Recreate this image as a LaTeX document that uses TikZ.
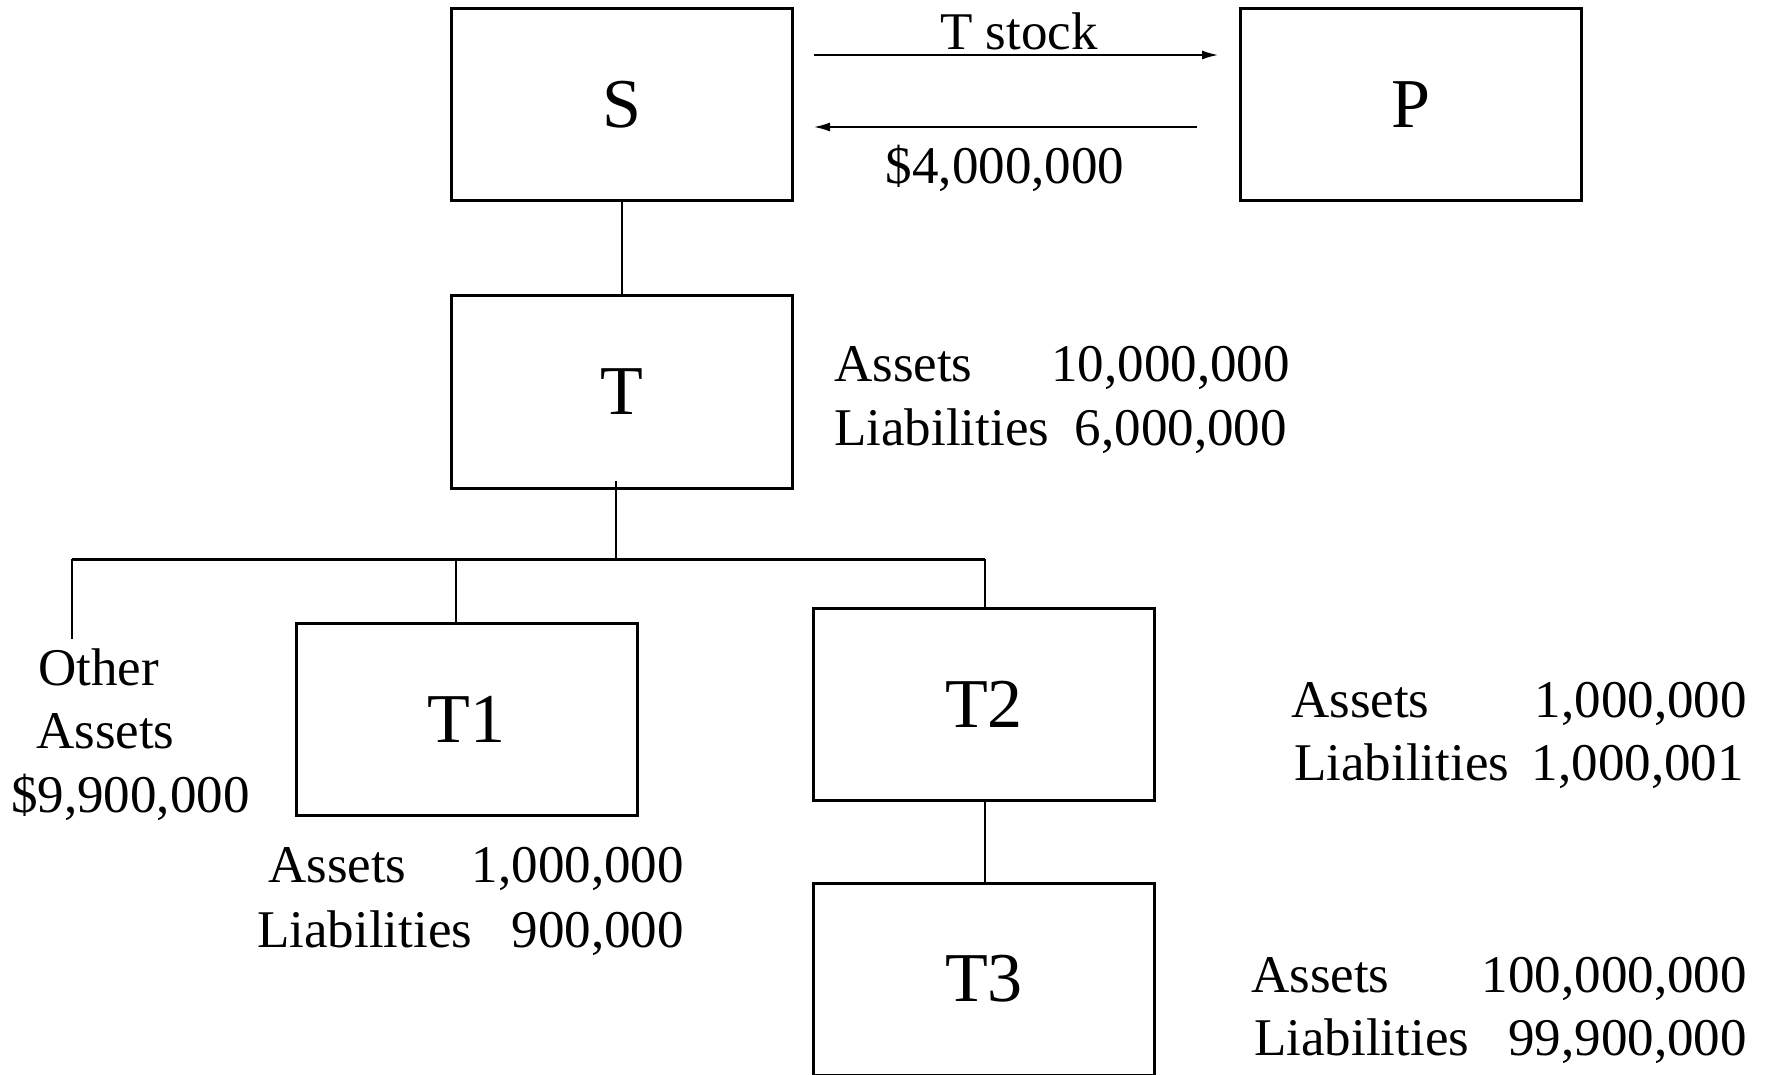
\documentclass[tikz,border=0pt]{standalone}
\usepackage{fontspec}
\setmainfont{Liberation Serif}
\usetikzlibrary{arrows.meta}
\begin{document}
\begin{tikzpicture}[x=1pt,y=-1pt,
  box/.style={draw,line width=3pt,minimum width=341pt,minimum height=192pt,inner sep=0pt,font=\fontsize{70}{84}\selectfont},
  lbl/.style={inner sep=0pt,font=\fontsize{53}{63}\selectfont},
  conn/.style={line width=2pt},
  bus/.style={line width=3pt},
  arr/.style={line width=1.5pt,-{Latex[length=16pt,width=9pt]}}]
\useasboundingbox (0,0) rectangle (1767,1075);
% boxes
\node[box] (S) at (621.5,104.5) {S};
\node[box] (P) at (1410.5,104.5) {P};
\node[box] (T) at (621.5,392) {T};
\node[box] (T1) at (466.5,719.5) {T1};
\node[box] (T2) at (984,704) {T2};
\node[box] (T3) at (984,979) {T3};
% coordinates
\coordinate (tb) at (616,481);
\coordinate (bus) at (616,559);
\coordinate (busL) at (72,559);
\coordinate (busR) at (985,559);
\coordinate (oa) at (72,639);
\coordinate (busT1) at (456,559);
\coordinate (a1s) at (814,55);
\coordinate (a1e) at (1218,55);
\coordinate (a2s) at (1197,127);
\coordinate (a2e) at (814,127);
% connectors
\draw[conn] (S.south) -- (T.north);
\draw[conn] (tb) -- (bus);
\draw[bus] (busL) -- (busR);
\draw[conn] (busL) -- (oa);
\draw[conn] (busT1) -- (busT1 |- T1.north);
\draw[conn] (busR) -- (busR |- T2.north);
\draw[conn] (T2.south -| busR) -- (busR |- T3.north);
\draw[arr] (a1s) -- (a1e);
\draw[arr] (a2s) -- (a2e);
% arrow labels
\node[lbl,anchor=base] (ts) at (1019,50) {T stock};
\node[lbl,anchor=base] (cash) at (1005,184) {\$4,000,000};
% T labels
\node[lbl,anchor=base west] (tA) at (834,381) {Assets};
\node[lbl,anchor=base east] (tAv) at (1290,381) {10,000,000};
\node[lbl,anchor=base west] (tL) at (834,445) {Liabilities};
\node[lbl,anchor=base east] (tLv) at (1287,445) {6,000,000};
% T1 labels
\node[lbl,anchor=base west] (t1A) at (268,882) {Assets};
\node[lbl,anchor=base east] (t1Av) at (684,882) {1,000,000};
\node[lbl,anchor=base west] (t1L) at (257,947) {Liabilities};
\node[lbl,anchor=base east] (t1Lv) at (684,947) {900,000};
% T2 labels
\node[lbl,anchor=base west] (t2A) at (1291,717) {Assets};
\node[lbl,anchor=base east] (t2Av) at (1747,717) {1,000,000};
\node[lbl,anchor=base west] (t2L) at (1294,780) {Liabilities};
\node[lbl,anchor=base east] (t2Lv) at (1744,780) {1,000,001};
% T3 labels
\node[lbl,anchor=base west] (t3A) at (1251,992) {Assets};
\node[lbl,anchor=base east] (t3Av) at (1747,992) {100,000,000};
\node[lbl,anchor=base west] (t3L) at (1254,1055) {Liabilities};
\node[lbl,anchor=base east] (t3Lv) at (1747,1055) {99,900,000};
% other assets
\node[lbl,anchor=base west] (oa1) at (38,685) {Other};
\node[lbl,anchor=base west] (oa2) at (36,748) {Assets};
\node[lbl,anchor=base west] (oa3) at (11,812) {\$9,900,000};
\end{tikzpicture}
\end{document}
